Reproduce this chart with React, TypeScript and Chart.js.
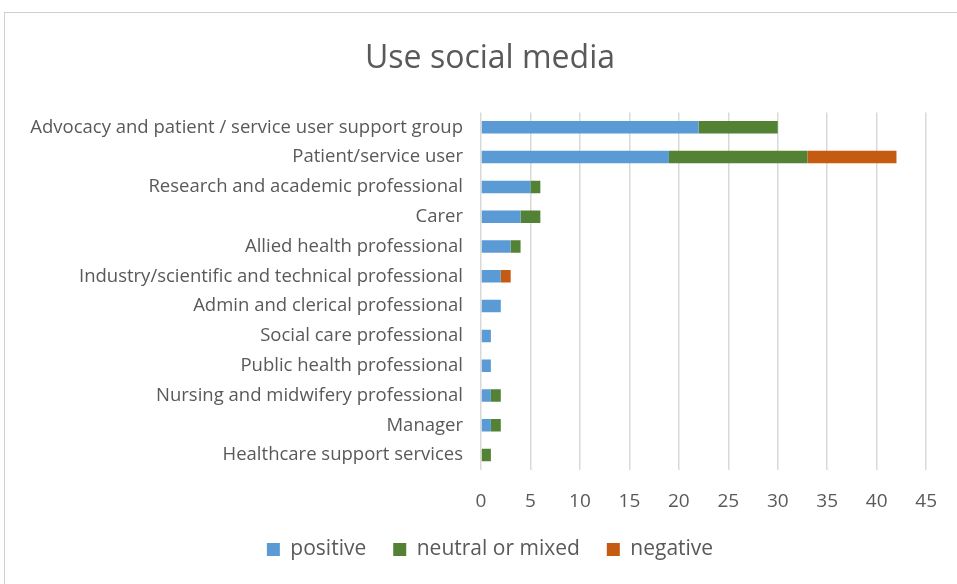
import React, { useEffect, useRef } from "react";
import { Chart, registerables } from "chart.js";

Chart.register(...registerables);

const categories = [
  "Advocacy and patient / service user support group",
  "Patient/service user",
  "Research and academic professional",
  "Carer",
  "Allied health professional",
  "Industry/scientific and technical professional",
  "Admin and clerical professional",
  "Social care professional",
  "Public health professional",
  "Nursing and midwifery professional",
  "Manager",
  "Healthcare support services",
];
const positive = [22, 19, 5, 4, 3, 2, 2, 1, 1, 1, 1, 0];
const neutral = [8, 14, 1, 2, 1, 0, 0, 0, 0, 1, 1, 1];
const negative = [0, 9, 0, 0, 0, 1, 0, 0, 0, 0, 0, 0];
const seriesNames = ["positive", "neutral or mixed", "negative"];
const colors = ["#5b9bd5", "#548235", "#c55a11"];

const FONT = "'Open Sans', Lato, sans-serif";
const TEXT = "#595959";

const unclipLabels = {
  id: "unclipLabels",
  afterLayout(chart: any) {
    const y = chart.scales.y;
    if (y) y.left = 0;
  },
};

export default function App() {
  const ref = useRef<HTMLCanvasElement | null>(null);
  useEffect(() => {
    document.body.style.margin = "0";
    const ctx = ref.current!;
    const chart = new Chart(ctx, {
      type: "bar",
      data: {
        labels: categories,
        datasets: [positive, neutral, negative].map((d, i) => ({
          label: seriesNames[i],
          data: d,
          backgroundColor: colors[i],
          borderWidth: 0,
          barPercentage: 0.42,
          categoryPercentage: 1,
        })),
      },
      plugins: [unclipLabels],
      options: {
        indexAxis: "y",
        animation: false,
        responsive: false,
        maintainAspectRatio: false,
        layout: { padding: { left: 52, right: 29, top: 0, bottom: 14 } },
        plugins: {
          title: {
            display: true,
            text: "Use social media",
            color: TEXT,
            font: { family: FONT, size: 32, weight: "normal" },
            padding: { top: 40, bottom: 34 },
          },
          legend: {
            position: "bottom",
            labels: {
              color: TEXT,
              font: { family: FONT, size: 21 },
              boxWidth: 13,
              boxHeight: 13,
              padding: 27,
            },
          },
          tooltip: { enabled: false },
        },
        scales: {
          x: {
            stacked: true,
            min: 0,
            max: 45,
            ticks: {
              stepSize: 5,
              color: TEXT,
              font: { family: FONT, size: 19 },
              padding: 20,
            },
            grid: { color: "#d9d9d9", lineWidth: 1.5, drawTicks: false },
            border: { display: false },
            afterFit: (s: any) => {
              s.height = 42;
            },
          },
          y: {
            stacked: true,
            ticks: {
              color: TEXT,
              font: { family: FONT, size: 18.5 },
              padding: 18,
              autoSkip: false,
            },
            grid: { display: false, drawTicks: false },
            border: { display: false },
            afterFit: (s: any) => {
              s.width = 429;
            },
          },
        },
      },
    });
    return () => chart.destroy();
  }, []);
  return (
    <div style={{ position: "relative", width: 957, height: 584 }}>
      <canvas ref={ref} width={957} height={584} style={{ display: "block" }} />
      <div
        style={{
          position: "absolute",
          left: 4,
          top: 12,
          width: 960,
          height: 580,
          border: "1.5px solid #d0d0d0",
          pointerEvents: "none",
        }}
      />
    </div>
  );
}
